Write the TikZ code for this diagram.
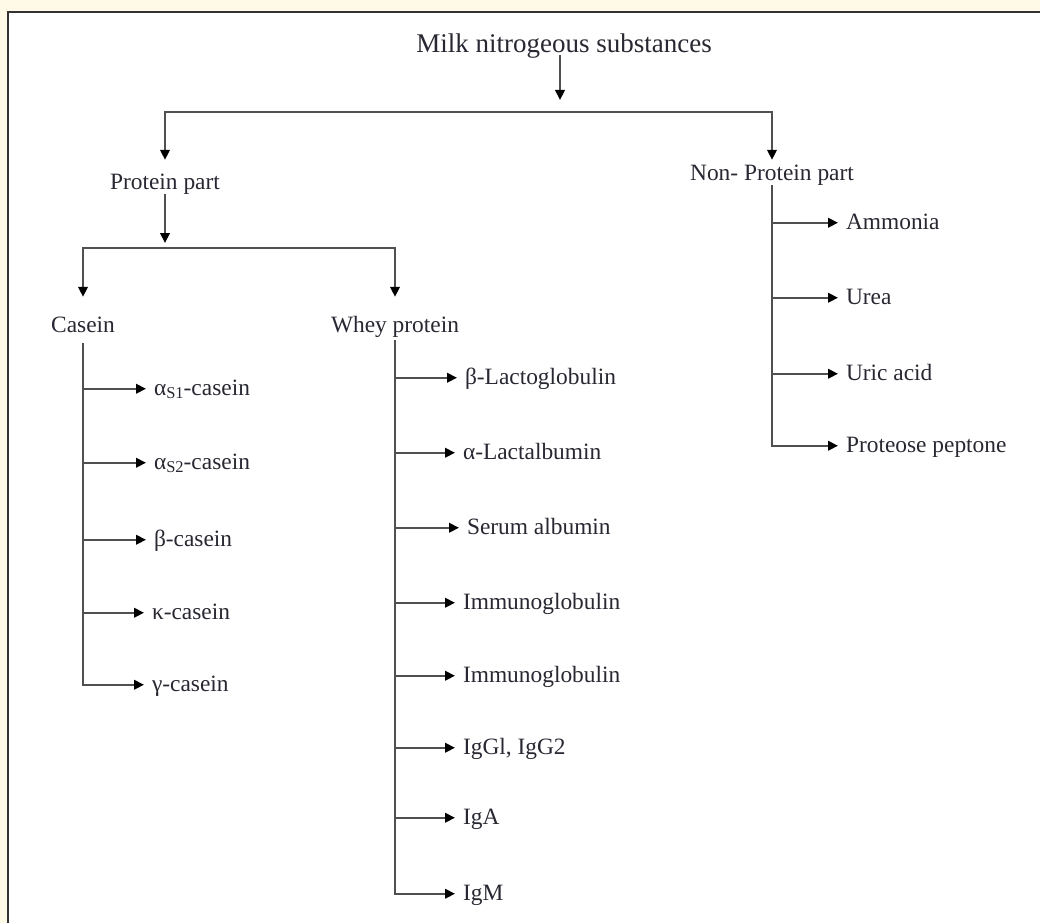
\documentclass[tikz,border=0pt]{standalone}
\usepackage{fontspec}
\setmainfont{Liberation Serif}
\usetikzlibrary{arrows.meta}
\definecolor{bgc}{RGB}{255,249,231}
\definecolor{lnc}{RGB}{80,80,80}
\definecolor{txc}{RGB}{40,40,50}
\definecolor{frc}{RGB}{50,50,50}
\newcommand{\msub}[1]{\raisebox{-0.35ex}{\fontsize{16.5}{17}\selectfont #1}}
\begin{document}
\begin{tikzpicture}[x=1pt,y=-1pt,
 ln/.style={draw=lnc,line width=2.2pt},
 arr/.style={ln,-{Triangle[length=10pt,width=9.5pt,color=black]}},
 lbl/.style={inner sep=0,font=\fontsize{23.4}{26}\selectfont,text=txc,text height=15.5pt,text depth=5pt,anchor=base},
 leaf/.style={inner sep=0,outer xsep=8pt,font=\fontsize{23.4}{26}\selectfont,text=txc,text height=16pt,text depth=3.5pt,anchor=base west}]
\useasboundingbox (0,0) rectangle (1040,923);
\fill[bgc] (0,0) rectangle (1040,923);
\fill[white] (8,12) rectangle (1040,923);
\draw[frc,line width=1.5pt] (8,923) -- (8,12) -- (1040,12);

% parent nodes
\node[lbl,font=\fontsize{27}{30}\selectfont] (t) at (564,53) {Milk nitrogeous substances};
\node[lbl] (pp) at (165,189) {Protein part};
\node[lbl] (npp) at (772,180) {Non- Protein part};
\node[lbl] (cas) at (83,332) {Casein};
\node[lbl] (whey) at (395,332) {Whey protein};

\coordinate (split) at (560,112);
\coordinate (ppsplit) at (165,248);

% top level
\draw[arr] ([yshift=-2pt]t.base -| split) -- ([yshift=12pt]split);
\draw[arr] (split) -| ([yshift=13.5pt]pp.north);
\draw[arr] (split) -| ([yshift=4.5pt]npp.north);
\draw[arr] (pp.south) -- ([yshift=5pt]ppsplit);
\draw[arr] (ppsplit) -| ([yshift=19.5pt]cas.north);
\draw[arr] (ppsplit) -| ([yshift=19.5pt]whey.north);

% casein leaves
\node[leaf] (c1) at (146,395) {α\msub{S1}-casein};
\node[leaf] (c2) at (146,469) {α\msub{S2}-casein};
\node[leaf] (c3) at (146,546) {β-casein};
\node[leaf] (c4) at (144,619) {κ-casein};
\node[leaf] (c5) at (144,691) {γ-casein};
\draw[arr] ([yshift=-6pt]cas.south) |- (c5.west);
\foreach \n in {c1,c2,c3,c4}{\draw[arr] (\n.west -| cas.south) -- (\n.west);}

% whey leaves
\node[leaf] (w1) at (457,384) {β-Lactoglobulin};
\node[leaf] (w2) at (455,459) {α-Lactalbumin};
\node[leaf] (w3) at (459,534) {Serum albumin};
\node[leaf] (w4) at (455,609) {Immunoglobulin};
\node[leaf] (w5) at (455,682) {Immunoglobulin};
\node[leaf] (w6) at (455,754) {IgGl, IgG2};
\node[leaf] (w7) at (455,824) {IgA};
\node[leaf] (w8) at (455,900) {IgM};
\draw[arr] ([yshift=-3pt]whey.south) |- (w8.west);
\foreach \n in {w1,w2,w3,w4,w5,w6,w7}{\draw[arr] (\n.west -| whey.south) -- (\n.west);}

% non-protein leaves
\node[leaf] (n1) at (838,229) {Ammonia};
\node[leaf] (n2) at (838,304) {Urea};
\node[leaf] (n3) at (838,380) {Uric acid};
\node[leaf] (n4) at (838,452) {Proteose peptone};
\draw[arr] (npp.south) |- (n4.west);
\foreach \n in {n1,n2,n3}{\draw[arr] (\n.west -| npp.south) -- (\n.west);}
\end{tikzpicture}
\end{document}
